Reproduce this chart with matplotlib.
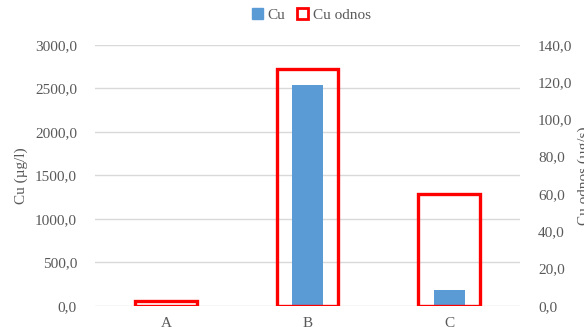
import numpy as np
import matplotlib.pyplot as plt
from matplotlib.patches import Patch

plt.rcParams['font.family'] = ['Liberation Serif', 'DejaVu Serif']

sites = ['A', 'B', 'C']
cu_conc = [0.0, 2540.0, 180.0]       # Cu (µg/l)
cu_load = [2.5, 127.0, 60.0]         # Cu odnos (µg/s)

left_ticks = np.arange(0, 3001, 500)
right_ticks = np.arange(0, 141, 20)

grey = '#595959'
blue = '#5B9BD5'
red = '#FF0000'

fig = plt.figure(figsize=(5.84, 3.27), dpi=100)
ax = fig.add_axes([0.1627, 0.0651, 0.7277, 0.7976])
ax2 = ax.twinx()

x = np.arange(len(sites))
ax.bar(x, cu_conc, width=0.22, color=blue, zorder=2)
ax2.bar(x, cu_load, width=0.435, facecolor='none', edgecolor=red,
        linewidth=2.4, zorder=3)

ax.set_xlim(-0.5, 2.5)
ax.set_ylim(0, 3000)
ax2.set_ylim(0, 140)
ax.set_yticks(left_ticks)
ax2.set_yticks(right_ticks)
ax.set_yticklabels([f'{v:.1f}'.replace('.', ',') for v in left_ticks])
ax2.set_yticklabels([f'{v:.1f}'.replace('.', ',') for v in right_ticks])
ax.set_xticks(x)
ax.set_xticklabels(sites)

ax.grid(axis='y', color='#D9D9D9', linewidth=1.0, zorder=0)
ax.set_axisbelow(True)
for a in (ax, ax2):
    for s in a.spines.values():
        s.set_visible(False)
    a.tick_params(length=0, labelsize=11, colors=grey, pad=13)
ax.tick_params(axis='x', pad=8)

ax.set_ylabel('Cu (µg/l)', fontsize=11, color=grey, labelpad=5)
ax2.set_ylabel('Cu odnos (µg/s)', fontsize=11, color=grey, labelpad=4)

handles = [Patch(facecolor=blue, edgecolor=blue),
           Patch(facecolor='white', edgecolor=red, linewidth=2)]
fig.legend(handles, ['Cu', 'Cu odnos'], loc='center', bbox_to_anchor=(0.533, 0.955),
           ncol=2, frameon=False, fontsize=11, labelcolor=grey,
           handlelength=0.7, handleheight=0.7, handletextpad=0.3, columnspacing=0.8)

fig.savefig('out.png', dpi=100)
